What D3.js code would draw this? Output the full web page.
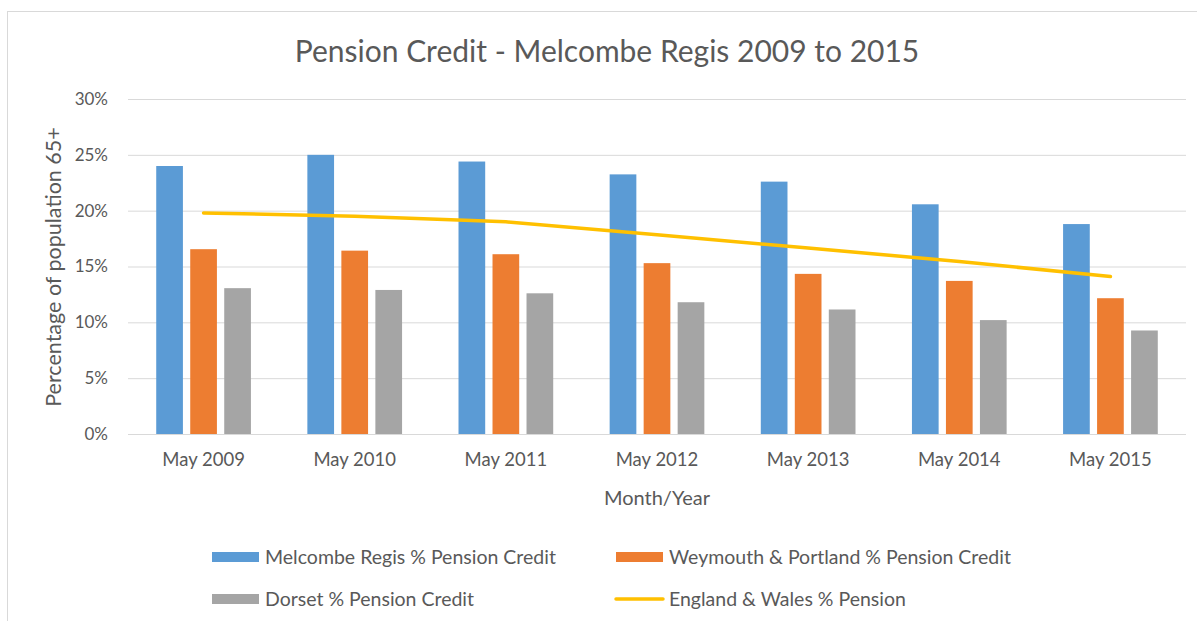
<!DOCTYPE html>
<html>
<head>
<meta charset="utf-8">
<script src="https://cdn.jsdelivr.net/npm/d3@7"></script>
<style>
  body { margin: 0; background: #fff; }
  svg text { font-family: Lato, "Open Sans", sans-serif; fill: #595959; }
</style>
</head>
<body>
<div id="graf"></div>
<script>
// Datos
const years = ['May 2009', 'May 2010', 'May 2011', 'May 2012', 'May 2013', 'May 2014', 'May 2015']
const melcombe = [24.0, 25.0, 24.4, 23.25, 22.6, 20.57, 18.8]
const weymouth = [16.55, 16.42, 16.1, 15.3, 14.34, 13.71, 12.16]
const dorset = [13.06, 12.9, 12.6, 11.8, 11.15, 10.2, 9.27]
const englandWales = [19.8, 19.5, 19.0, 17.85, 16.65, 15.45, 14.1]
const yTicks = [0, 5, 10, 15, 20, 25, 30]
const seriesNames = ['Melcombe Regis % Pension Credit', 'Weymouth & Portland % Pension Credit', 'Dorset % Pension Credit']
const lineName = 'England & Wales % Pension'

const colores = ['#5B9BD5', '#ED7D31', '#A5A5A5']
const amarillo = '#FFC000'

// Dimensiones
const anchoTotal = 1197
const altoTotal = 621
const margins = { top: 99, left: 128, right: 11, bottom: 187 }
const ancho = anchoTotal - margins.left - margins.right
const alto = altoTotal - margins.top - margins.bottom

const svg = d3.select('#graf').append('svg')
    .attr('width', anchoTotal)
    .attr('height', altoTotal)

svg.append('rect').attr('width', anchoTotal).attr('height', altoTotal).attr('fill', 'white')
// marco del gráfico
svg.append('rect')
    .attr('x', 7.5).attr('y', 11.5)
    .attr('width', anchoTotal + 20).attr('height', altoTotal + 20)
    .attr('fill', 'none').attr('stroke', '#D9D9D9').attr('stroke-width', 1)

const g = svg.append('g').attr('transform', `translate(${margins.left}, ${margins.top})`)

// Escaladores
const y = d3.scaleLinear().domain([0, 30]).range([alto, 0])
const x = d3.scaleBand().domain(years).range([0, ancho])
const xs = d3.scaleBand().domain(d3.range(3)).range([0, x.bandwidth()])
    .paddingInner(0.215).paddingOuter(0.83)

// Ejes
const yAxis = d3.axisLeft(y).tickValues(yTicks).tickSize(-ancho).tickPadding(20).tickFormat(d => d + '%')
const yAxisGroup = g.append('g').call(yAxis)
yAxisGroup.select('.domain').remove()
yAxisGroup.selectAll('line').attr('stroke', '#D9D9D9').attr('stroke-width', 1)
yAxisGroup.selectAll('text').attr('font-size', 17).attr('fill', '#595959')
    .style('font-family', 'Lato, sans-serif')

const xAxis = d3.axisBottom(x).tickSize(0).tickPadding(19)
const xAxisGroup = g.append('g').attr('transform', `translate(0, ${alto})`).call(xAxis)
xAxisGroup.select('.domain').remove()
xAxisGroup.selectAll('text').attr('font-size', 18.5).attr('fill', '#595959')
    .style('font-family', 'Lato, sans-serif')

// Barras
const datos = [melcombe, weymouth, dorset]
const grupos = g.selectAll('g.serie').data(datos).enter().append('g').attr('class', 'serie')
grupos.selectAll('rect')
    .data((d, i) => d.map((v, j) => ({ v, j, i })))
    .enter().append('rect')
    .attr('x', d => x(years[d.j]) + xs(d.i))
    .attr('y', d => y(d.v))
    .attr('width', xs.bandwidth())
    .attr('height', d => alto - y(d.v))
    .attr('fill', d => colores[d.i])

// Línea
const linea = d3.line()
    .x((d, j) => x(years[j]) + x.bandwidth() / 2)
    .y(d => y(d))
g.append('path')
    .datum(englandWales)
    .attr('d', linea)
    .attr('fill', 'none')
    .attr('stroke', amarillo)
    .attr('stroke-width', 3.5)
    .attr('stroke-linecap', 'round')
    .attr('stroke-linejoin', 'round')

// Titulos
svg.append('text')
    .attr('x', 607).attr('y', 62)
    .attr('text-anchor', 'middle')
    .attr('font-size', 30)
    .text('Pension Credit - Melcombe Regis 2009 to 2015')

svg.append('text')
    .attr('x', margins.left + ancho / 2).attr('y', 505)
    .attr('text-anchor', 'middle')
    .attr('font-size', 20)
    .text('Month/Year')

svg.append('text')
    .attr('transform', `translate(61, 267) rotate(-90)`)
    .attr('text-anchor', 'middle')
    .attr('font-size', 21.5)
    .text('Percentage of population 65+')

// Leyenda
const leyenda = [
    { name: seriesNames[0], color: colores[0], type: 'rect', x: 212, y: 557 },
    { name: seriesNames[1], color: colores[1], type: 'rect', x: 616, y: 557 },
    { name: seriesNames[2], color: colores[2], type: 'rect', x: 212, y: 599 },
    { name: lineName, color: amarillo, type: 'line', x: 616, y: 599 }
]
const items = svg.selectAll('g.leg').data(leyenda).enter().append('g')
    .attr('transform', d => `translate(${d.x}, ${d.y})`)
items.filter(d => d.type === 'rect').append('rect')
    .attr('x', 0).attr('y', -5).attr('width', 47).attr('height', 10)
    .attr('fill', d => d.color)
items.filter(d => d.type === 'line').append('line')
    .attr('x1', 0).attr('x2', 47).attr('y1', 0).attr('y2', 0)
    .attr('stroke', d => d.color).attr('stroke-width', 3.5).attr('stroke-linecap', 'round')
items.append('text')
    .attr('x', 53).attr('dy', '0.35em')
    .attr('font-size', 19.5)
    .text(d => d.name)
</script>
</body>
</html>
